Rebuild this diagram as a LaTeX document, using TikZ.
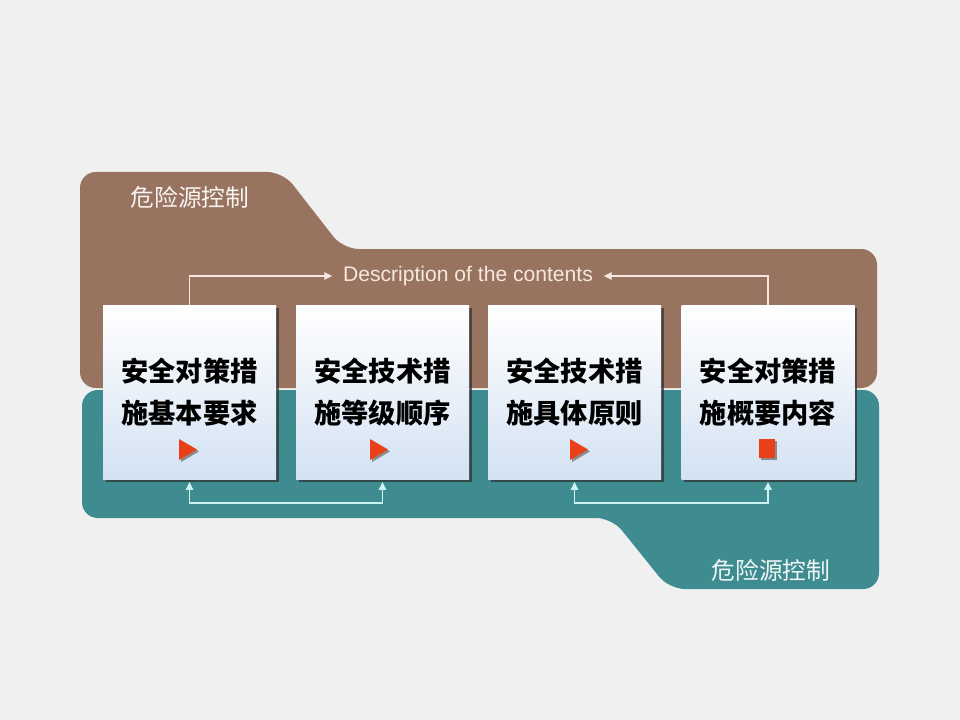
\documentclass[tikz,border=0pt]{standalone}
\usepackage{fontspec}
\setmainfont{Liberation Sans}
\newfontfamily\cjk{Noto Sans CJK SC}
\usetikzlibrary{arrows.meta,positioning,shapes,shadows}
\definecolor{bgcol}{RGB}{240,240,240}
\definecolor{brownbar}{RGB}{152,116,96}
\definecolor{tealbar}{RGB}{62,139,144}
\definecolor{boxbot}{RGB}{212,226,243}
\definecolor{playred}{RGB}{234,64,26}
\definecolor{uplink}{RGB}{246,232,224}
\definecolor{lowlink}{RGB}{205,242,242}

\begin{document}
\begin{tikzpicture}[x=0.2mm,y=-0.2mm,
    card/.style={shading=axis,top color=white,bottom color=boxbot,
      minimum width=34.6mm,minimum height=34.8mm,align=center,inner sep=0pt,
      font=\cjk\bfseries\fontsize{15.5}{24}\selectfont,
      drop shadow={shadow xshift=1.6pt,shadow yshift=-1.6pt,opacity=0.75,fill=black!80}},
    title/.style={font=\cjk\fontsize{13.5}{16}\selectfont},
    uplinks/.style={draw=uplink,line width=0.6pt,-{Triangle[length=1.6mm,width=1.5mm]}},
    lowlinks/.style={draw=lowlink,line width=0.6pt,{Triangle[length=1.6mm,width=1.5mm]}-{Triangle[length=1.6mm,width=1.5mm]}}]
  \fill[bgcol] (0,0) rectangle (960,720);
  \useasboundingbox (0,0) rectangle (960,720);

  % Bars
  \fill[brownbar,rounded corners=9pt] (80,388) -- (80,172) -- (283,172) -- (343,249) -- (877,249) -- (877,388) -- cycle;
  \fill[tealbar,rounded corners=9pt] (82,390) -- (879,390) -- (879,589) -- (669,589) -- (612,518) -- (82,518) -- cycle;

  % Nodes
  \node[title,text=white!92!brownbar] (toptitle) at (190,197) {危险源控制};
  \node[title,text=white!92!tealbar] (bottitle) at (771,570) {危险源控制};
  \node[text=uplink,font=\fontsize{12}{14}\selectfont,inner xsep=6pt] (desc) at (468,276) {Description of the contents};

  \node[card] (b1) at (189.5,392) {安全对策措\\施基本要求};
  \node[card] (b2) at (382.5,392) {安全技术措\\施等级顺序};
  \node[card] (b3) at (574.5,392) {安全技术措\\施具体原则};
  \node[card] (b4) at (768,392) {安全对策措\\施概要内容};

  % Marks
  \fill[black!45] (181,441) -- (199,451.5) -- (181,462) -- cycle;
  \fill[playred] (179,439) -- (197,449.5) -- (179,460) -- cycle;
  \fill[black!45] (372,441) -- (390,451.5) -- (372,462) -- cycle;
  \fill[playred] (370,439) -- (388,449.5) -- (370,460) -- cycle;
  \fill[black!45] (572,441) -- (590,451.5) -- (572,462) -- cycle;
  \fill[playred] (570,439) -- (588,449.5) -- (570,460) -- cycle;
  \fill[black!45] (761,441) rectangle (777,460);
  \fill[playred] (759,439) rectangle (775,458);

  % Edges
  \draw[uplinks] (b1.north) |- (desc.west);
  \draw[uplinks] (b4.north) |- (desc.east);
  \draw[lowlinks] ([yshift=-1.5pt]b1.south) -- ++(0,21) -| ([yshift=-1.5pt]b2.south);
  \draw[lowlinks] ([yshift=-1.5pt]b3.south) -- ++(0,21) -| ([yshift=-1.5pt]b4.south);
\end{tikzpicture}
\end{document}
